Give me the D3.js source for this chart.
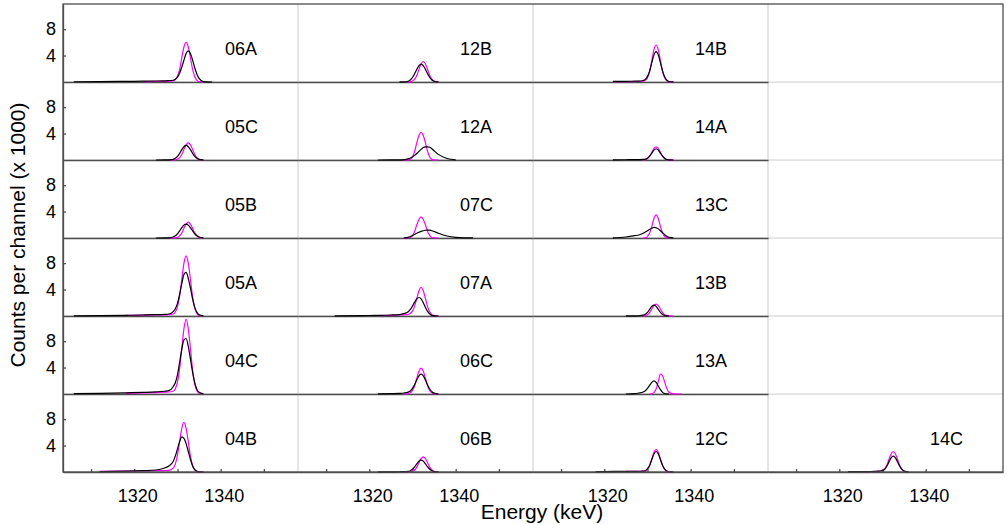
<!DOCTYPE html>
<html>
<head>
<meta charset="utf-8">
<script src="https://cdn.jsdelivr.net/npm/d3@7"></script>
<style>
  body { margin: 0; background: #fff; }
  .chart-container { width: 1007px; height: 525px; }
</style>
</head>
<body>
<div class="chart-container"></div>
<script>
// energy grid in keV, shared by every spectrum below (counts per channel / 1000)
const energy = [1306, 1312, 1318, 1322, 1325, 1327, 1328, 1329, 1329.5, 1330, 1330.5, 1331, 1331.5,
  1332, 1332.5, 1333, 1333.5, 1334, 1334.5, 1335, 1336, 1338, 1340, 1342, 1344];

const xTicks = [1310, 1320, 1330, 1340, 1350];
const xTickLabels = [1320, 1340];
const yTicks = [4, 8];

// panel names top to bottom, one list per column
const column1 = ["06A", "05C", "05B", "05A", "04C", "04B"];
const column2 = ["12B", "12A", "07C", "07A", "06C", "06B"];
const column3 = ["14B", "14A", "13C", "13B", "13A", "12C"];
const column4 = [null, null, null, null, null, "14C"];

// m = magenta spectrum, b = black spectrum
const m06A = [null,null,null,0.05,0.08,0.1,0.12,0.17,0.36,0.86,1.9,3.7,5.3,6.0,5.3,3.7,1.9,0.8,0.26,0.07,0,null,null,null,null];
const b06A = [0.04,0.06,0.1,0.12,0.15,0.18,0.2,0.27,0.4,0.74,1.33,2.25,3.32,4.31,4.7,4.31,3.32,2.15,1.18,0.54,0.07,0,null,null,null];
const m05C = [null,null,null,null,null,null,0,0,0.03,0.11,0.35,0.83,1.6,2.3,2.6,2.3,1.6,0.83,0.35,0.11,0,null,null,null,null];
const b05C = [null,null,null,null,0,0.01,0.03,0.1,0.25,0.55,1.0,1.56,2.0,2.2,2.0,1.56,1.0,0.55,0.25,0.1,0.01,null,null,null,null];
const m05B = [null,null,null,null,null,null,0,0,0.03,0.1,0.33,0.77,1.47,2.11,2.4,2.11,1.47,0.77,0.33,0.1,0,null,null,null,null];
const b05B = [null,null,null,null,0,0.01,0.03,0.15,0.33,0.64,1.08,1.56,1.95,2.1,1.95,1.56,1.08,0.64,0.33,0.15,0.02,null,null,null,null];
const m05A = [null,null,0.08,0.12,0.15,0.18,0.2,0.3,0.6,1.38,3.0,5.55,8.0,9.1,8.0,5.55,2.9,1.23,0.4,0.1,0,null,null,null,null];
const b05A = [0.02,0.05,0.1,0.15,0.2,0.25,0.3,0.65,1.1,1.9,3.3,4.9,6.3,6.6,5.7,4.2,2.6,1.3,0.55,0.18,0.02,null,null,null,null];
const m04C = [null,null,0.1,0.15,0.22,0.28,0.3,0.42,0.8,1.78,3.8,6.9,9.9,11.3,9.9,6.9,3.6,1.5,0.5,0.12,0,null,null,null,null];
const b04C = [0.05,0.1,0.18,0.25,0.33,0.42,0.5,1.1,1.7,2.9,4.8,6.8,8.2,8.4,7.2,5.3,3.3,1.7,0.7,0.25,0.03,null,null,null,null];
const m04B = [null,0.08,0.12,0.16,0.2,0.22,0.24,0.58,1.2,2.55,4.6,6.6,7.5,6.6,4.6,2.4,1.0,0.33,0.08,0.01,0,null,null,null,null];
const b04B = [null,0.05,0.12,0.2,0.3,0.6,0.9,1.6,2.4,3.5,4.6,5.3,5.1,4.3,3.1,1.9,0.9,0.35,0.1,0.02,0,null,null,null,null];

const m12B = [null,null,null,null,null,null,null,0,0.03,0.14,0.42,1.0,1.9,2.73,3.1,2.73,1.9,1.0,0.42,0.14,0,null,null,null,null];
const b12B = [null,null,null,null,null,0.02,0.03,0.12,0.31,0.68,1.24,1.91,2.48,2.7,2.48,1.91,1.24,0.68,0.31,0.12,0.01,null,null,null,null];
const m12A = [null,null,null,null,null,null,0,0.02,0.1,0.45,1.3,2.6,3.7,4.2,3.7,2.6,1.3,0.45,0.1,0.02,0,null,null,null,null];
const b12A = [null,null,null,0,0.01,0.02,0.06,0.18,0.3,0.47,0.7,0.98,1.3,1.6,1.88,1.98,2.0,1.92,1.7,1.4,0.85,0.22,0.01,null,null];
const m07C = [null,null,null,null,null,null,0,0.02,0.08,0.35,1.0,2.0,2.8,3.2,2.8,2.0,1.0,0.35,0.08,0.02,0,null,null,null,null];
const b07C = [null,null,null,null,null,null,0,0.1,0.22,0.38,0.55,0.72,0.88,1.0,1.1,1.17,1.2,1.18,1.1,0.98,0.72,0.3,0.1,0.02,0.01];
const m07A = [null,null,null,0.05,0.1,0.15,0.18,0.25,0.39,0.74,1.5,2.65,3.83,4.35,3.83,2.65,1.4,0.59,0.19,0.05,0,null,null,null,null];
const b07A = [null,0.03,0.06,0.1,0.15,0.22,0.35,0.65,1.0,1.5,2.1,2.6,2.8,2.6,2.0,1.3,0.7,0.3,0.1,0.03,0,null,null,null,null];
const m06C = [null,null,null,null,null,null,0,0.04,0.17,0.53,1.25,2.38,3.43,3.9,3.43,2.38,1.25,0.53,0.17,0.04,0,null,null,null,null];
const b06C = [null,null,null,0.03,0.06,0.1,0.15,0.28,0.46,0.85,1.42,2.12,2.75,3.0,2.75,2.12,1.37,0.75,0.34,0.13,0.01,null,null,null,null];
const m06B = [null,null,null,null,null,null,null,0,0.03,0.1,0.31,0.74,1.4,2.02,2.3,2.02,1.4,0.74,0.31,0.1,0,null,null,null,null];
const b06B = [null,null,null,0.02,0.03,0.04,0.05,0.1,0.2,0.41,0.77,1.23,1.64,1.8,1.64,1.23,0.77,0.41,0.2,0.07,0.01,null,null,null,null];

const m14B = [null,null,null,0.05,0.06,0.07,0.08,0.11,0.25,0.65,1.62,3.2,4.9,5.6,4.9,3.2,1.62,0.6,0.17,0.03,0,null,null,null,null];
const b14B = [null,null,null,0.08,0.1,0.12,0.13,0.23,0.39,0.85,1.65,2.92,4.1,4.6,4.1,2.92,1.65,0.75,0.27,0.08,0.01,null,null,null,null];
const m14A = [null,null,null,null,null,null,null,0.01,0.06,0.21,0.58,1.15,1.75,2.0,1.75,1.15,0.58,0.21,0.06,0.01,0,null,null,null,null];
const b14A = [null,null,null,0.03,0.04,0.05,0.06,0.08,0.12,0.27,0.57,1.04,1.5,1.7,1.5,1.04,0.57,0.23,0.07,0.02,0,null,null,null,null];
const m13C = [null,null,null,null,null,null,null,0,0.05,0.22,0.74,1.75,2.95,3.5,2.95,1.75,0.74,0.22,0.05,0,null,null,null,null,null];
const b13C = [null,null,null,0.01,0.15,0.35,0.45,0.72,0.9,1.1,1.3,1.48,1.6,1.55,1.38,1.1,0.8,0.5,0.26,0.1,0.01,null,null,null,null];
const m13B = [null,null,null,null,null,null,null,0.01,0.05,0.19,0.52,1.03,1.57,1.8,1.57,1.03,0.52,0.19,0.05,0.01,0,null,null,null,null];
const b13B = [null,null,null,null,0.02,0.03,0.04,0.12,0.25,0.54,1.0,1.45,1.65,1.45,1.0,0.54,0.22,0.07,0.02,0,null,null,null,null,null];
const m13A = [null,null,null,null,null,null,null,null,null,null,0,0.03,0.2,0.75,1.9,3.0,2.75,1.75,0.8,0.25,0.02,0,null,null,null];
const b13A = [null,null,null,null,0,0.05,0.15,0.3,0.5,0.85,1.3,1.75,2.0,1.75,1.2,0.65,0.25,0.07,0.01,0,null,null,null,null,null];
const m12C = [null,null,null,null,0.08,0.09,0.1,0.15,0.18,0.41,0.98,1.96,2.97,3.4,2.97,1.96,0.98,0.36,0.1,0.02,0,null,null,null,null];
const b12C = [null,null,0.05,0.08,0.1,0.1,0.11,0.12,0.2,0.5,1.0,1.88,2.73,3.1,2.73,1.88,1.0,0.42,0.14,0.03,0,null,null,null,null];

const m14C = [null,null,null,null,0.05,0.06,0.07,0.1,0.14,0.25,0.5,1.0,1.9,2.73,3.1,2.73,1.9,1.0,0.42,0.14,0,null,null,null,null];
const b14C = [null,null,null,0.05,0.06,0.07,0.08,0.12,0.15,0.22,0.39,0.87,1.52,2.14,2.4,2.14,1.52,0.87,0.39,0.14,0.01,null,null,null,null];

// lookup built from the arrays above: name -> [magenta, black]
const spectra = {
  "06A": [m06A, b06A], "05C": [m05C, b05C], "05B": [m05B, b05B], "05A": [m05A, b05A],
  "04C": [m04C, b04C], "04B": [m04B, b04B], "12B": [m12B, b12B], "12A": [m12A, b12A],
  "07C": [m07C, b07C], "07A": [m07A, b07A], "06C": [m06C, b06C], "06B": [m06B, b06B],
  "14B": [m14B, b14B], "14A": [m14A, b14A], "13C": [m13C, b13C], "13B": [m13B, b13B],
  "13A": [m13A, b13A], "12C": [m12C, b12C], "14C": [m14C, b14C]
};
const columns = [column1, column2, column3, column4];
const seriesColors = ["#ff00ff", "#000000"];

const width = 1007, height = 525;
const plotLeft = 63, plotRight = 1003, plotTop = 4, plotBottom = 472;
const font = "'Liberation Sans', Arial, Helvetica, sans-serif";
const axisColor = "#4d4d4d", gridColor = "#cccccc";

const colScale = d3.scaleBand().domain(d3.range(columns.length)).range([plotLeft, plotRight]);
const rowScale = d3.scaleBand().domain(d3.range(column1.length)).range([plotTop, plotBottom]);
const xScale = d3.scaleLinear().domain([1303.5, 1357.9]).range([0, colScale.bandwidth()]);
const yScale = d3.scaleLinear().domain([0, 11.8]).range([rowScale.bandwidth(), 0]);

const svg = d3.select(".chart-container")
  .append("svg")
  .attr("width", width)
  .attr("height", height)
  .style("font-family", font);

// light grid: column separators and row separators
const grid = svg.append("g");
grid.selectAll("line.v")
  .data(d3.range(1, columns.length))
  .join("line")
  .attr("x1", d => colScale(d)).attr("x2", d => colScale(d))
  .attr("y1", plotTop).attr("y2", plotBottom)
  .attr("stroke", gridColor);
grid.selectAll("line.h")
  .data(d3.range(column1.length - 1))
  .join("line")
  .attr("x1", plotLeft).attr("x2", plotRight)
  .attr("y1", d => rowScale(d) + rowScale.bandwidth())
  .attr("y2", d => rowScale(d) + rowScale.bandwidth())
  .attr("stroke", gridColor);

const line = d3.line()
  .defined(d => d[1] != null)
  .x(d => xScale(d[0]))
  .y(d => yScale(d[1]))
  .curve(d3.curveMonotoneX);

const lastRow = column1.length - 1;

columns.forEach((names, c) => {
  names.forEach((name, r) => {
    const panel = svg.append("g")
      .attr("transform", `translate(${colScale(c)},${rowScale(r)})`);

    if (r === lastRow) {
      // bottom axis with inward ticks, labels only at 1320 / 1340
      const xAxis = d3.axisBottom(xScale)
        .tickValues(xTicks)
        .tickSize(-3)
        .tickSizeOuter(0)
        .tickPadding(17)
        .tickFormat(d => xTickLabels.includes(d) ? d : "");
      const gx = panel.append("g")
        .attr("transform", `translate(0,${rowScale.bandwidth()})`)
        .call(xAxis);
      gx.selectAll("text").attr("dx", 3).attr("fill", "#000")
        .style("font-size", "18px").style("font-family", font);
      gx.selectAll("line,path").attr("stroke", axisColor).attr("stroke-width", 1.3);
    } else if (name) {
      panel.append("g")
        .attr("transform", `translate(0,${rowScale.bandwidth()})`)
        .call(d3.axisBottom(xScale).tickValues([]).tickSizeOuter(0))
        .selectAll("path").attr("stroke", axisColor).attr("stroke-width", 1.3);
    }

    if (c === 0) {
      const gy = panel.append("g")
        .call(d3.axisLeft(yScale).tickValues(yTicks).tickSize(-3).tickSizeOuter(0).tickPadding(7));
      gy.selectAll("text").attr("fill", "#000")
        .style("font-size", "18px").style("font-family", font);
      gy.selectAll("line,path").attr("stroke", axisColor).attr("stroke-width", 1.3);
    }

    if (!name) return;

    spectra[name].forEach((values, i) => {
      panel.append("path")
        .datum(d3.zip(energy, values))
        .attr("fill", "none")
        .attr("stroke", seriesColors[i])
        .attr("stroke-width", 1.2)
        .attr("stroke-linejoin", "round")
        .attr("d", line);
    });

    panel.append("text")
      .attr("x", 162)
      .attr("y", 51)
      .attr("fill", "#000")
      .style("font-size", "18px")
      .text(name);
  });
});

// outer frame
svg.append("rect")
  .attr("x", plotLeft).attr("y", plotTop)
  .attr("width", plotRight - plotLeft).attr("height", plotBottom - plotTop)
  .attr("fill", "none")
  .attr("stroke", axisColor)
  .attr("stroke-width", 1.3);

// axis titles
svg.append("text")
  .attr("x", 542)
  .attr("y", 519)
  .attr("text-anchor", "middle")
  .style("font-size", "21px")
  .text("Energy (keV)");

svg.append("text")
  .attr("transform", "translate(25,235) rotate(-90)")
  .attr("text-anchor", "middle")
  .style("font-size", "21px")
  .text("Counts per channel (x 1000)");
</script>
</body>
</html>
